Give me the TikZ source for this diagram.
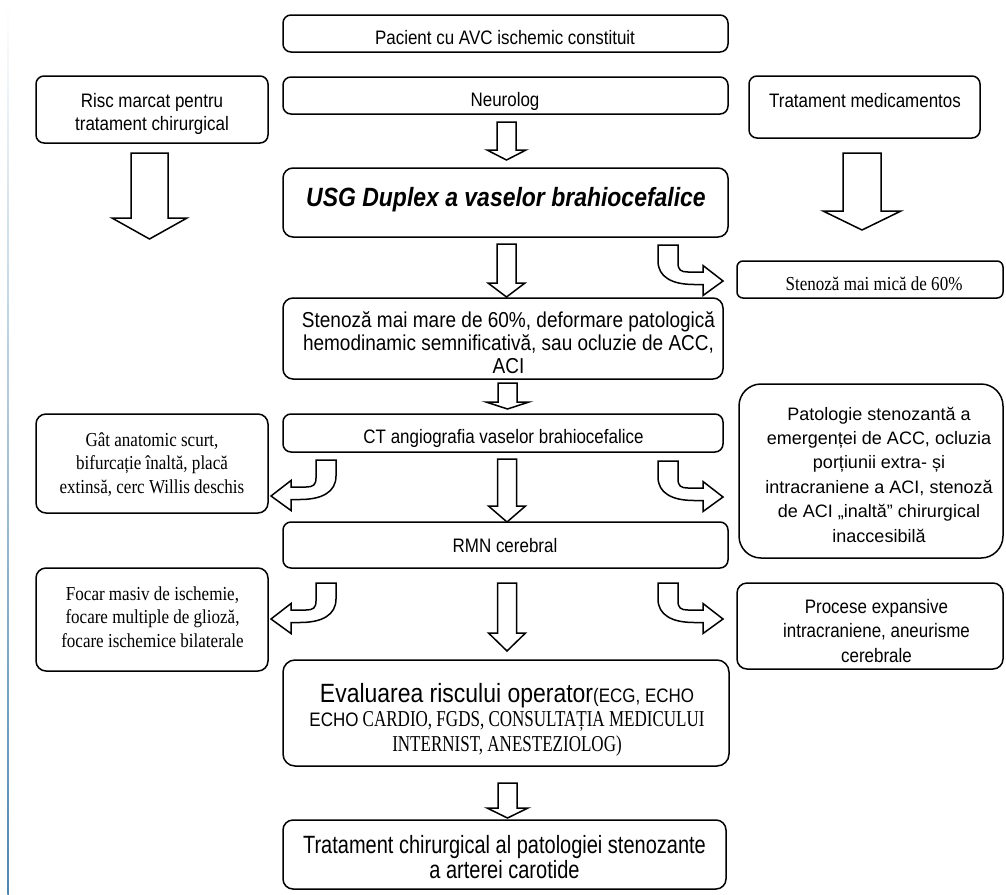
\documentclass[tikz,border=0pt]{standalone}
\usepackage{fontspec}
\setmainfont{Liberation Sans}
\newfontfamily\tms{Liberation Serif}
\usetikzlibrary{calc}
\newcommand\mlines[1]{\begin{tabular}[t]{@{}c@{}}#1\end{tabular}}
% size, baselineskip, horizontal stretch
\newcommand\sz[3]{\fontsize{#1}{#2}\selectfont\addfontfeature{FakeStretch=#3}}
\definecolor{edgeblue}{RGB}{80,135,175}
\tikzset{
  box/.style={draw=black, line width=1.5pt, rounded corners=8pt, fill=white, inner sep=0pt},
  txt/.style={anchor=base, inner sep=0pt, font=\sz{19.5}{23}{0.87}},
  serif/.style={font=\tms\sz{19.8}{23.5}{0.86}},
  barrow/.style={draw=black, line width=1.5pt, fill=white, line join=miter},
}
% straight block arrow: cx, top, head base, tip, shaft half width, head half width
\newcommand\dnarrow[6]{%
  \draw[barrow] (#1-#5,#2) -- (#1+#5,#2) -- (#1+#5,#3) -- (#1+#6,#3) -- (#1,#4)
    -- (#1-#6,#3) -- (#1-#5,#3) -- cycle;}
% bent block arrow: x of outer shaft edge, top, direction (1 right, -1 left)
\newcommand\bentarrow[3]{%
  \begin{scope}[shift={(#1,#2)}, xscale=#3]
    \draw[barrow] (0,0) -- (20,0) -- (20,18) .. controls (20,25) and (23,27) .. (30,27)
      -- (45,27) -- (45,20.5) -- (65,36) -- (45,50.5) -- (45,39.5) -- (36,39.5)
      .. controls (14,39.5) and (0,32) .. (0,16) -- cycle;
  \end{scope}}
\begin{document}
\begin{tikzpicture}[x=1pt, y=-1pt]
\useasboundingbox (0,0) rectangle (1006,894);
\fill[white] (0,0) rectangle (1006,894);
\shade[top color=white, bottom color=edgeblue] (7.3,0) rectangle (8.8,894);

% boxes
\node[box, minimum width=445pt, minimum height=37pt] (pac) at (505.5,33.5) {};
\node[box, minimum width=445pt, minimum height=37pt] (neu) at (505.5,95.5) {};
\node[box, minimum width=232pt, minimum height=67pt] (risc) at (152,109.5) {};
\node[box, minimum width=231pt, minimum height=62pt] (tmed) at (864.5,107) {};
\node[box, minimum width=445pt, minimum height=69pt, rounded corners=10pt] (usg) at (505.5,202.5) {};
\node[box, minimum width=266pt, minimum height=37pt, rounded corners=6pt] (s60) at (870,279.5) {};
\node[box, minimum width=440pt, minimum height=81pt, rounded corners=10pt] (sten) at (503,338.5) {};
\node[box, minimum width=440pt, minimum height=38pt] (ct) at (503,433) {};
\node[box, minimum width=232pt, minimum height=99pt, rounded corners=10pt] (gat) at (152,463.5) {};
\node[box, minimum width=264pt, minimum height=174pt, rounded corners=22pt] (pato) at (871,471) {};
\node[box, minimum width=445pt, minimum height=46pt] (rmn) at (505.5,545) {};
\node[box, minimum width=232pt, minimum height=103pt, rounded corners=10pt] (focar) at (152,619.5) {};
\node[box, minimum width=266pt, minimum height=86pt, rounded corners=10pt] (proc) at (870,626) {};
\node[box, minimum width=446pt, minimum height=106pt, rounded corners=12pt] (eval) at (506,713) {};
\node[box, minimum width=443pt, minimum height=69pt, rounded corners=10pt] (trat) at (504.5,854.5) {};

% texts
\node[txt] (tpac) at (505,44) {Pacient cu AVC ischemic constituit};
\node[txt] (tneu) at (505,106) {Neurolog};
\node[txt] (trisc) at (152,107) {\mlines{Risc marcat pentru\\tratament chirurgical}};
\node[txt] (ttmed) at (865,107) {Tratament medicamentos};
\node[txt, font=\sz{26.4}{27}{0.87}\bfseries\itshape] (tusg) at (506,206) {USG Duplex a vaselor brahiocefalice};
\node[txt, serif] (ts60) at (874,290) {Stenoză mai mică de 60\%};
\node[txt, font=\sz{21.6}{23}{0.88}] (tsten) at (508.5,327) {\mlines{Stenoză mai mare de 60\%, deformare patologică\\hemodinamic semnificativă, sau ocluzie de ACC,\\ACI}};
\node[txt] (tct) at (503.5,443) {CT angiografia vaselor brahiocefalice};
\node[txt, serif] (tgat) at (152,446) {\mlines{Gât anatomic scurt,\\bifurcație înaltă, placă\\extinsă, cerc Willis deschis}};
\node[txt, font=\fontsize{18}{24.4}\selectfont] (tpato) at (879,420) {\mlines{Patologie stenozantă a\\emergenței de ACC, ocluzia\\porțiunii extra- și\\intracraniene a ACI, stenoză\\de ACI „inaltă” chirurgical\\inaccesibilă}};
\node[txt] (trmn) at (505,552) {RMN cerebral};
\node[txt, serif] (tfocar) at (152.5,600) {\mlines{Focar masiv de ischemie,\\focare multiple de glioză,\\focare ischemice bilaterale}};
\node[txt, font=\sz{19.5}{24.5}{0.87}] (tproc) at (876.5,613) {\mlines{Procese expansive\\intracraniene, aneurisme\\cerebrale}};
\node[txt, font=\sz{19.5}{24.5}{0.87}] (teval) at (507,702) {\mlines{{\sz{26.4}{24.5}{0.87}Evaluarea riscului operator}(ECG, ECHO\\ECHO{\tms\sz{22.7}{24.5}{0.75}\ CARDIO, FGDS, CONSULTAȚIA MEDICULUI}\\{\tms\sz{22.7}{24.5}{0.75}INTERNIST, ANESTEZIOLOG)}}};
\node[txt, font=\sz{25}{24}{0.8}] (ttrat) at (504.5,853) {\mlines{Tratament chirurgical al patologiei stenozante\\a arterei carotide}};

% straight block arrows
\dnarrow{506.5}{122}{150}{160}{9.5}{19.5}
\dnarrow{506.5}{244}{283}{297}{9.5}{18.5}
\dnarrow{507.5}{383}{402}{409}{9.5}{21.5}
\dnarrow{507}{459}{506}{522}{9.5}{18.5}
\dnarrow{507}{583}{633}{651}{9.5}{18.5}
\dnarrow{507.5}{783}{808}{818}{9.5}{20.5}
\dnarrow{149.5}{153}{218}{239}{18.5}{37.5}
\dnarrow{862}{153}{211}{230}{19}{39}

% bent block arrows
\bentarrow{658}{245}{1}
\bentarrow{658}{461}{1}
\bentarrow{658}{583}{1}
\bentarrow{336}{460}{-1}
\bentarrow{336}{583}{-1}
\end{tikzpicture}
\end{document}
